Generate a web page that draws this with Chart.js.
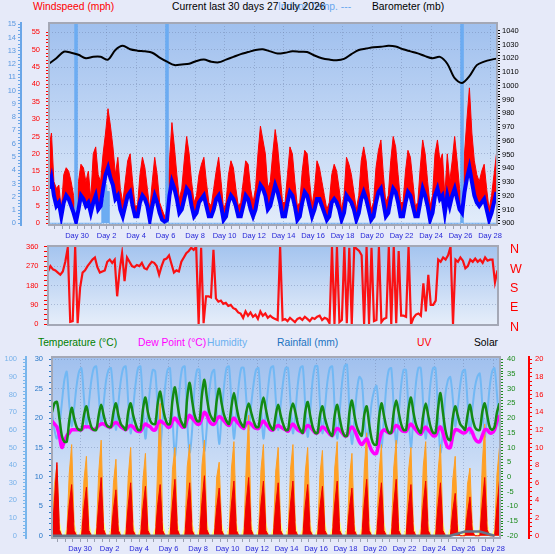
<!DOCTYPE html>
<html>
<head>
<meta charset="utf-8">
<script src="https://cdn.jsdelivr.net/npm/chart.js@4.4.1/dist/chart.umd.min.js"></script>
<style>
  body { margin: 0; background: #e6eaf9; }
  #wrap { position: relative; width: 555px; height: 554px; overflow: hidden; font-family: "Liberation Sans", Arial, sans-serif; font-size: 10.3px; }
  canvas { position: absolute; left: 0; }
  .lbl { position: absolute; white-space: nowrap; line-height: 14px; }
</style>
</head>
<body>
<div id="wrap">
  <span class="lbl" style="left:33px;top:0;color:#ff0000">Windspeed (mph)</span>
  <span class="lbl" style="left:278px;top:0;color:#6aa8ee">Indoor Temp. ---</span>
  <span class="lbl" style="left:172px;top:0;color:#000">Current last 30 days 27 July 2026</span>
  <span class="lbl" style="left:372px;top:0;color:#000">Barometer (mb)</span>

  <span class="lbl" style="left:38px;top:336px;color:#008000">Temperature (°C)</span>
  <span class="lbl" style="left:138px;top:336px;color:#ff00ff">Dew Point (°C)</span>
  <span class="lbl" style="left:207px;top:336px;color:#6ab0f0">Humidity</span>
  <span class="lbl" style="left:277px;top:336px;color:#1a72c0">Rainfall (mm)</span>
  <span class="lbl" style="left:417px;top:336px;color:#ff0000">UV</span>
  <span class="lbl" style="left:474px;top:336px;color:#000">Solar</span>

  <canvas id="windChart" width="555" height="245" style="top:0"></canvas>
  <canvas id="dirChart" width="555" height="99" style="top:236px"></canvas>
  <canvas id="climateChart" width="555" height="219" style="top:335px"></canvas>
</div>
<script>
const dayLabels = ['Day 30', 'Day 2', 'Day 4', 'Day 6', 'Day 8', 'Day 10', 'Day 12', 'Day 14',
  'Day 16', 'Day 18', 'Day 20', 'Day 22', 'Day 24', 'Day 26', 'Day 28'];
const compassLabels = ['N', 'E', 'S', 'W', 'N'];

// one value every 4 hours, first one 1.9 days before the "Day 30" mark
const windGust = [
  22, 26, 12, 10, 11, 4,   14, 16, 15, 12, 8, 2,    12, 17, 16, 12, 15, 7,
  20, 22, 14, 12, 20, 26,  33, 28, 22, 14, 19, 10,  6, 12, 18, 20, 12, 5,
  5, 14, 19, 16, 10, 4,    12, 19, 14, 6, 4, 2,     4, 18, 29, 22, 14, 7,
  10, 18, 25, 20, 12, 6,   8, 14, 17, 19, 12, 6,    5, 10, 15, 19, 12, 4,
  6, 14, 18, 16, 10, 5,    6, 12, 18, 17, 10, 6,    10, 20, 28, 24, 20, 10,
  12, 20, 27, 22, 14, 6,   6, 14, 22, 20, 12, 5,    6, 15, 21, 20, 12, 5,
  10, 18, 16, 12, 8, 4,    6, 14, 17, 15, 10, 4,    8, 19, 17, 14, 9, 4,
  8, 18, 22, 18, 10, 4,    6, 16, 21, 24, 14, 6,    8, 18, 25, 22, 14, 6,
  6, 15, 21, 19, 12, 5,    6, 16, 24, 20, 12, 5,    8, 20, 24, 18, 20, 8,
  20, 12, 18, 25, 18, 10,  8, 20, 30, 39, 26, 18,   14, 12, 15, 17, 10, 4,
  8, 14, 20
];
const windAvg = [
  10, 13, 8, 5, 6, 2,      6, 8, 7, 5, 3, 0.5,      4, 8, 7, 5, 6, 3,
  6, 8, 4, 5, 10, 14,      16, 13, 11, 7, 8, 4,     2, 5, 8, 9, 5, 2,
  2, 6, 8, 7, 5, 1,        5, 8, 6, 3, 1, 0.5,      1, 8, 12, 10, 7, 3,
  4, 7, 10, 9, 5, 2,       3, 6, 7, 8, 5, 2,        2, 4, 7, 8, 5, 1,
  2, 6, 8, 7, 5, 2,        2, 5, 8, 7, 4, 2,        4, 8, 11, 10, 8, 4,
  5, 8, 11, 9, 6, 2,       2, 6, 9, 8, 5, 1,        2, 6, 9, 8, 5, 2,
  4, 7, 7, 5, 3, 1,        2, 6, 7, 6, 4, 1,        3, 8, 7, 6, 4, 1,
  3, 7, 9, 7, 4, 1,        2, 6, 9, 10, 6, 2,       3, 7, 10, 9, 6, 2,
  2, 6, 9, 8, 5, 2,        2, 6, 10, 8, 5, 1,       3, 8, 10, 7, 8, 3,
  8, 5, 8, 10, 7, 4,       3, 9, 13, 16, 12, 8,     6, 5, 6, 7, 4, 1,
  3, 6, 9
];
// rain rate events (sample number, value)
const rainRateAt = [11, 22, 23, 24, 48, 168];
const rainRate = [15.1, 1.8, 2.9, 2.4, 15.1, 15.1];

// one value every 12 hours
const pressure = [
  1016, 1020, 1024.7, 1024, 1022.5, 1020, 1021, 1021, 1019, 1026,
  1029, 1026.5, 1025.5, 1025, 1024, 1020.5, 1017.5, 1015, 1015.5, 1016,
  1018, 1019, 1017.5, 1017, 1019, 1021, 1023, 1024.5, 1026, 1026.5,
  1025, 1023.5, 1024, 1025, 1024.7, 1024.5, 1022, 1020, 1019, 1018.5,
  1019.5, 1023, 1026, 1027, 1028, 1028.3, 1029, 1028.5, 1026.5, 1025,
  1023.5, 1021.5, 1020, 1021, 1016, 1005.5, 1002, 1007, 1015, 1017.5,
  1019, 1020
];

const windDir = [
  245, 270, 255, 250, 240, 230,  245, 290, 355, 12, 15, 360,   5, 170, 240, 250, 270, 285,
  300, 310, 265, 240, 245, 250,  290, 300, 285, 300, 130, 250, 330, 200, 310, 290, 270, 265,
  275, 270, 285, 260, 255, 275,  290, 285, 270, 230, 270, 300, 305, 320, 280, 240, 250, 245,
  290, 310, 330, 340, 355, 345,  360, 0, 355, 5, 130, 130,     125, 345, 120, 105, 110, 95,
  100, 85, 90, 75, 70, 55,       50, 30, 60, 40, 55, 35,       45, 25, 60, 40, 50, 30,
  40, 30, 25, 20, 360, 20,       25, 15, 30, 20, 10, 25,       30, 20, 35, 25, 15, 30,
  25, 35, 40, 20, 30, 25,        5, 360, 0, 360, 10, 20,       360, 5, 355, 0, 360, 350,
  340, 320, 0, 360, 0, 355,      15, 20, 360, 10, 25, 30,      360, 0, 360, 5, 340, 40,
  40, 35, 360, 0, 30, 45,        50, 40, 190, 60, 230, 90,     90, 110, 300, 290, 310, 300,
  320, 360, 0, 300, 290, 310,    295, 260, 270, 300, 290, 305, 290, 300, 285, 310, 295, 300,
  300, 195, 250
];

const temperature = [
  22, 25, 25.5, 20, 14, 12,   12, 19, 23.5, 20, 17, 16,  16, 21, 24, 20, 17, 16,
  16, 21, 24.5, 21, 18, 17,   17, 22, 25, 21, 18, 17,    16, 22, 25, 21, 18, 16,
  16, 23, 27, 22, 19, 18,     18, 25, 29, 24, 20, 18,    18, 26, 30.5, 25, 20, 18,
  17, 27, 32, 26, 21, 19,     19, 28, 33, 27, 22, 20,    19, 26, 30, 25, 21, 19,
  18, 24, 28.5, 24, 20, 18,   17, 22, 25, 22, 19, 17,    17, 23, 27, 23, 19, 17,
  16, 21, 24.5, 21, 18, 16,   16, 22, 25, 22, 18, 16,    15, 22, 25.5, 21, 17, 15,
  15, 21, 24, 20, 17, 15,     14, 21, 24.5, 20, 16, 14,  14, 22, 26, 21, 17, 15,
  14, 21, 24, 18, 13, 11,     11, 20, 25, 21, 17, 15,    15, 22, 26, 22, 18, 16,
  16, 23, 27, 22, 18, 16,     15, 21, 25, 21, 17, 15,    15, 23, 28.5, 22, 16, 13,
  12.5, 20, 24, 21, 18, 17,   16, 21, 24.5, 20, 17, 16,  16, 22, 25, 21, 17, 16,
  17, 22, 25
];
const dewPoint = [
  19, 18, 17, 14, 10, 12,           14, 15, 16, 16, 16, 16,           16, 17, 17, 17, 16.5, 16,
  16.5, 17.5, 18, 18, 17.5, 17,     17, 18, 18.5, 18, 17, 16.5,       16, 17, 17.5, 17, 16, 15.5,
  15.5, 17, 18, 17.5, 17, 16,       16, 18, 19, 18.5, 18, 17,         17, 19, 20, 19, 18, 17,
  17, 19.5, 21, 20, 19, 18,         18, 20, 22, 21, 19, 18,           18, 19.5, 20.5, 20, 19, 18,
  17.5, 19, 20, 19, 18, 17,         16.5, 18, 18.5, 18, 17, 16.5,     16.5, 18, 19, 18, 17, 16,
  16, 17, 17.5, 17, 16.5, 16,       15.5, 17, 18, 17, 16, 15.5,       15, 16.5, 17.5, 17, 16, 15,
  15, 16, 17, 16.5, 15.5, 14.5,     14, 15.5, 16.5, 16, 15, 14,       14, 16, 17, 16, 14, 12,
  11, 12, 13, 11, 9, 8,             8, 12, 15, 16, 15.5, 15,          15, 16.5, 17.5, 17, 16, 15.5,
  15.5, 17, 18, 17, 16, 15,         14.5, 16, 17, 16, 15, 14,         14, 16, 17, 15, 12, 10,
  10, 14, 16, 16, 15.5, 15,         15, 16, 16.5, 15, 13, 12,         12, 14, 16, 16, 15, 15,
  16, 19, 21
];
const humidity = [
  70, 60, 55, 62, 75, 88,   93, 75, 62, 72, 85, 93,   95, 78, 62, 75, 88, 95,
  96, 80, 63, 75, 88, 94,   95, 78, 60, 75, 88, 95,   96, 76, 58, 72, 86, 95,
  96, 74, 55, 70, 85, 94,   93, 70, 50, 66, 84, 94,   95, 68, 45, 62, 85, 95,
  96, 65, 47, 60, 84, 94,   94, 64, 48, 62, 82, 92,   94, 70, 52, 68, 85, 95,
  96, 75, 55, 70, 86, 95,   95, 78, 60, 74, 86, 94,   95, 74, 55, 70, 85, 95,
  96, 78, 60, 74, 87, 95,   95, 76, 58, 70, 86, 95,   96, 74, 56, 70, 88, 96,
  96, 75, 58, 72, 87, 95,   96, 72, 55, 70, 87, 96,   97, 70, 52, 66, 82, 90,
  88, 68, 55, 62, 75, 82,   85, 70, 50, 66, 85, 94,   95, 72, 52, 68, 85, 94,
  94, 70, 50, 68, 86, 95,   95, 74, 55, 70, 87, 95,   95, 70, 47, 60, 80, 88,
  90, 78, 62, 72, 85, 93,   94, 76, 58, 72, 84, 90,   92, 75, 56, 68, 84, 93,
  95, 80, 62
];
const solar = [
  0, 350, 480, 60, 0, 0,  0, 420, 620, 75, 0, 0,  0, 380, 540, 65, 0, 0,
  0, 430, 650, 70, 0, 0,  0, 360, 520, 60, 0, 0,  0, 400, 600, 65, 0, 0,
  0, 380, 560, 60, 0, 0,  0, 480, 900, 75, 0, 0,  0, 450, 600, 70, 0, 0,
  0, 470, 620, 75, 0, 0,  0, 480, 650, 70, 0, 0,  0, 400, 500, 65, 0, 0,
  0, 460, 640, 70, 0, 0,  0, 480, 820, 65, 0, 0,  0, 450, 620, 75, 0, 0,
  0, 440, 600, 70, 0, 0,  0, 450, 620, 65, 0, 0,  0, 430, 600, 70, 0, 0,
  0, 420, 580, 60, 0, 0,  0, 460, 640, 70, 0, 0,  0, 400, 560, 60, 0, 0,
  0, 450, 700, 65, 0, 0,  0, 420, 620, 70, 0, 0,  0, 460, 650, 65, 0, 0,
  0, 440, 600, 60, 0, 0,  0, 470, 640, 70, 0, 0,  0, 430, 620, 65, 0, 0,
  0, 380, 540, 60, 0, 0,  0, 350, 460, 55, 0, 0,  0, 480, 760, 70, 0, 0,
  0, 420, 600
];
const uvIndex = [
  0, 4, 8.3, 0.7, 0, 0,    0, 3.5, 5.8, 0.6, 0, 0,  0, 3.2, 5.5, 0.6, 0, 0,
  0, 3.5, 6.6, 0.7, 0, 0,  0, 3, 5.2, 0.6, 0, 0,    0, 3.4, 6, 0.6, 0, 0,
  0, 3.2, 5.6, 0.6, 0, 0,  0, 3.5, 5.8, 0.6, 0, 0,  0, 3.6, 6.4, 0.7, 0, 0,
  0, 3.4, 6, 0.6, 0, 0,    0, 3.8, 6.8, 0.7, 0, 0,  0, 3.2, 5.4, 0.6, 0, 0,
  0, 3.6, 6.2, 0.6, 0, 0,  0, 3.8, 6.6, 0.7, 0, 0,  0, 3.6, 6.2, 0.6, 0, 0,
  0, 3.5, 6, 0.6, 0, 0,    0, 3.6, 6.2, 0.6, 0, 0,  0, 3.4, 5.8, 0.6, 0, 0,
  0, 3.3, 5.6, 0.6, 0, 0,  0, 3.6, 6.2, 0.6, 0, 0,  0, 3.2, 5.4, 0.6, 0, 0,
  0, 3.6, 6.4, 0.6, 0, 0,  0, 3.4, 6, 0.6, 0, 0,    0, 3.6, 6.4, 0.6, 0, 0,
  0, 3.3, 5.8, 0.6, 0, 0,  0, 3.6, 6.2, 0.6, 0, 0,  0, 3.4, 6, 0.6, 0, 0,
  0, 2.8, 4.8, 0.5, 0, 0,  0, 2.6, 4.4, 0.5, 0, 0,  0, 3.6, 6.6, 0.7, 0, 0,
  0, 3.4, 6.2
];
const solarLow = [
  0.9, 1.4, 1.6, 1.6, 0, 0,  0.8, 1.3, 1.5, 1.5, 0, 0,  0.8, 1.3, 1.5, 1.5, 0, 0,
  0.9, 1.4, 1.6, 1.6, 0, 0,  0.8, 1.2, 1.4, 1.4, 0, 0,  0.8, 1.3, 1.5, 1.5, 0, 0,
  0.8, 1.3, 1.5, 1.5, 0, 0,  0.9, 1.4, 1.6, 1.6, 0, 0,  0.9, 1.4, 1.6, 1.6, 0, 0,
  0.8, 1.3, 1.5, 1.5, 0, 0,  0.9, 1.4, 1.6, 1.6, 0, 0,  0.8, 1.2, 1.4, 1.4, 0, 0,
  0.9, 1.4, 1.6, 1.6, 0, 0,  0.9, 1.4, 1.6, 1.6, 0, 0,  0.8, 1.3, 1.5, 1.5, 0, 0,
  0.8, 1.3, 1.5, 1.5, 0, 0,  0.9, 1.4, 1.6, 1.6, 0, 0,  0.8, 1.3, 1.5, 1.5, 0, 0,
  0.8, 1.3, 1.5, 1.5, 0, 0,  0.9, 1.4, 1.6, 1.6, 0, 0,  0.8, 1.2, 1.4, 1.4, 0, 0,
  0.9, 1.4, 1.6, 1.6, 0, 0,  0.8, 1.3, 1.5, 1.5, 0, 0,  0.9, 1.4, 1.6, 1.6, 0, 0,
  0.8, 1.3, 1.5, 1.5, 0, 0,  0.9, 1.4, 1.6, 1.6, 0, 0,  0.8, 1.3, 1.5, 1.5, 0, 0,
  0.8, 1.2, 1.4, 1.4, 0, 0,  0.8, 1.2, 1.4, 1.4, 0, 0,  0.9, 1.4, 1.6, 1.6, 0, 0,
  0.8, 1.3, 1.5
];
// one value per day
const rainfall = [0, 0, 0, 0, 0, 0, 0, 0, 0, 0, 0, 0, 0, 0, 0, 0,
  0, 0, 0, 0, 0, 0, 0, 0, 0, 0, 0, 0, 0.7, 0.7, 0];

const T0 = -1.9, STEP = 1 / 6, XMAX = 28.47;
const series = (values, step) => values.map((y, i) => ({ x: T0 + i * step, y }));
const rainRateSeries = windGust.map((_, i) => {
  const k = rainRateAt.indexOf(i);
  return k < 0 ? 0 : rainRate[k];
});

const FONT = '"Liberation Sans", Arial, sans-serif';
const tickFont = { family: FONT, size: 7.5 };
const gridColor = 'rgba(110,130,170,0.45)';

function ticksEvery(from, to, step) {
  return scale => {
    const out = [];
    const n = Math.round((to - from) / step);
    for (let k = 0; k <= n; k++) out.push({ value: +(from + k * step).toFixed(4) });
    scale.ticks = out;
  };
}
const labelEvery = every => v => (Math.abs(v / every - Math.round(v / every)) < 1e-6 ? v : '');
const fixWidth = w => s => { s.width = w; };
const isDayTick = v => v >= 0 && Math.abs(v / 2 - Math.round(v / 2)) < 1e-6;

function dayAxis(height, show) {
  return {
    type: 'linear', min: T0, max: XMAX, offset: false, bounds: 'data', display: show,
    afterBuildTicks: ticksEvery(-1.5, 28, 0.5),
    afterFit: s => { s.height = height; },
    grid: { offset: false, color: c => (c.tick && isDayTick(c.tick.value) ? gridColor : 'transparent'),
      tickColor: '#9aa0b0', tickLength: 4 },
    border: { display: false, dash: [1, 2] },
    ticks: { callback: v => (isDayTick(v) ? dayLabels[Math.round(v / 2)] : ''), color: '#2828d8',
      font: tickFont, padding: 2, maxRotation: 0, autoSkip: false }
  };
}

function yAxis(o) {
  const onGrid = c => o.grid && c.tick && Math.abs(c.tick.value / o.grid - Math.round(c.tick.value / o.grid)) < 1e-6;
  return {
    position: o.pos, weight: o.weight || 0, min: o.min, max: o.max, bounds: 'data',
    afterBuildTicks: ticksEvery(o.ticks[0], o.ticks[1], o.ticks[2]),
    afterFit: fixWidth(o.width),
    grid: {
      offset: false,
      drawOnChartArea: !!o.grid,
      color: c => (onGrid(c) ? gridColor : 'transparent'),
      tickColor: o.tickColor || o.color, tickLength: o.tickLength === undefined ? 3 : o.tickLength
    },
    border: o.border ? { color: o.border, width: 2, dash: [1, 2] } : { display: false, dash: [1, 2] },
    ticks: { callback: o.label || labelEvery(o.every), color: o.color, font: o.font || tickFont,
      padding: o.pad === undefined ? 2 : o.pad, labelOffset: o.shift || 0, autoSkip: false }
  };
}

const panel = {
  id: 'panel',
  beforeDraw(chart, args, opts) {
    const { ctx, chartArea: { left, top, right, bottom } } = chart;
    const g = ctx.createLinearGradient(0, top, 0, bottom);
    g.addColorStop(0, opts.top);
    g.addColorStop(1, opts.bottom);
    ctx.save();
    ctx.fillStyle = g;
    ctx.fillRect(left, top, right - left, bottom - top);
    ctx.restore();
  },
  afterDraw(chart) {
    const { ctx, chartArea: { left, top, right, bottom } } = chart;
    ctx.save();
    ctx.strokeStyle = '#a4a8b6';
    ctx.lineWidth = 2;
    ctx.strokeRect(left, top, right - left, bottom - top);
    ctx.restore();
  }
};

const common = (padding, bg) => ({
  responsive: false, animation: false, events: [],
  layout: { padding },
  plugins: { legend: { display: false }, tooltip: { enabled: false }, panel: bg },
  elements: { point: { radius: 0 }, line: { tension: 0 } }
});

// windspeed + barometer
new Chart(document.getElementById('windChart'), {
  type: 'line',
  data: {
    datasets: [
      { label: 'Gust', data: series(windGust, STEP), yAxisID: 'yWind', borderColor: '#ff0000',
        backgroundColor: '#ff0000', borderWidth: 1, fill: '+1', order: 3 },
      { label: 'Average', data: series(windAvg, STEP), yAxisID: 'yWind', borderColor: '#0000ff',
        borderWidth: 4, order: 1 },
      { label: 'Rain rate', data: series(rainRateSeries, STEP), yAxisID: 'yRate', borderColor: '#6cacf2',
        backgroundColor: '#6cacf2', borderWidth: 1, stepped: 'middle', fill: 'origin', order: 2 },
      { label: 'Barometer', data: series(pressure, 0.5), yAxisID: 'yBaro', borderColor: '#000',
        borderWidth: 2, tension: 0.3, order: 0 }
    ]
  },
  options: {
    ...common({ top: 23, left: 0, right: 0, bottom: 0 }, { top: '#a0c0ee', bottom: '#e2ecfa' }),
    scales: {
      x: dayAxis(20, true),
      yRate: yAxis({ pos: 'left', weight: 2, min: -0.13, max: 15.1, ticks: [0, 15, 0.25], every: 1,
        width: 21, color: '#5a98e0', tickColor: '#6aa6e8', border: '#6aa6e8', pad: 2 }),
      yWind: yAxis({ pos: 'left', weight: 1, min: -0.49, max: 57.68, ticks: [0, 55, 1], every: 5,
        width: 28, color: '#ff0000', grid: 5, pad: 6 }),
      yBaro: yAxis({ pos: 'right', min: 898.8, max: 1045.6, ticks: [900, 1040, 2], every: 10,
        width: 58, color: '#000', pad: 2 })
    }
  },
  plugins: [panel]
});

// wind direction
new Chart(document.getElementById('dirChart'), {
  type: 'line',
  data: {
    datasets: [
      { label: 'Direction', data: series(windDir, STEP), yAxisID: 'yDir', borderColor: 'rgba(255,0,0,0.92)',
        borderWidth: 2.2 }
    ]
  },
  options: {
    ...common({ top: 0, left: 0, right: 0, bottom: 0 }, { top: '#a4c4ef', bottom: '#e6eefa' }),
    scales: {
      x: dayAxis(0, false),
      yDir: yAxis({ pos: 'left', min: -3.2, max: 363.2, ticks: [0, 360, 22.5], every: 90,
        width: 48, color: '#ff0000', grid: 90, pad: 5.5, tickLength: 4 }),
      yCompass: yAxis({ pos: 'right', min: -3.2, max: 363.2, ticks: [0, 360, 90], width: 57,
        color: '#ff0000', tickColor: 'transparent', tickLength: 12, pad: 0, shift: 3,
        font: { family: FONT, size: 12.5, lineHeight: 0.8 },
        label: v => compassLabels[Math.round(v / 90)] })
    }
  },
  plugins: [panel]
});

// temperature, dew point, humidity, rainfall, UV, solar
new Chart(document.getElementById('climateChart'), {
  type: 'line',
  data: {
    datasets: [
      { label: 'Temperature (°C)', data: series(temperature, STEP), yAxisID: 'yTemp', borderColor: '#138a13',
        borderWidth: 2.5, tension: 0.3, order: 0 },
      { label: 'Dew Point (°C)', data: series(dewPoint, STEP), yAxisID: 'yTemp', borderColor: '#ff00ff',
        borderWidth: 3.5, tension: 0.3, order: 1 },
      { label: 'Rainfall (mm)', data: series(rainfall, 1), yAxisID: 'yRain', borderColor: '#667488',
        borderWidth: 2.5, order: 2 },
      { label: 'UV', data: series(uvIndex, STEP), yAxisID: 'yUV', borderColor: '#f00000',
        backgroundColor: '#f00000', borderWidth: 1, fill: 'origin', order: 3 },
      { label: 'Solar low', data: series(solarLow, STEP), yAxisID: 'yUV', borderColor: '#ffff78',
        backgroundColor: '#ffff78', borderWidth: 1, fill: 'origin', order: 4 },
      { label: 'Solar', data: series(solar, STEP), yAxisID: 'ySolar', borderColor: '#ffa024',
        backgroundColor: '#ffa024', borderWidth: 1, fill: 'origin', order: 5 },
      { label: 'Humidity', data: series(humidity, STEP), yAxisID: 'yHum', borderColor: '#72b8f4',
        borderWidth: 2, tension: 0.3, order: 6 }
    ]
  },
  options: {
    ...common({ top: 22, left: 0, right: 0, bottom: 0 }, { top: '#a0c0ee', bottom: '#e8f0fb' }),
    scales: {
      x: dayAxis(16, true),
      yHum: yAxis({ pos: 'left', weight: 2, min: -1.3, max: 101.3, ticks: [0, 100, 2], every: 10,
        width: 26, color: '#78b2ea', tickColor: '#7ab6ec', border: '#7ab6ec', pad: 6 }),
      yRain: yAxis({ pos: 'left', weight: 1, min: -0.39, max: 30.39, ticks: [0, 30, 1], every: 5,
        width: 26, color: '#2a78c8', grid: 5, pad: 6 }),
      yTemp: yAxis({ pos: 'right', weight: 1, min: -20.78, max: 40.78, ticks: [-20, 40, 1], every: 5,
        width: 29, color: '#1a8a1a', pad: 4 }),
      yUV: yAxis({ pos: 'right', weight: 2, min: -0.26, max: 20.26, ticks: [0, 20, 0.5], every: 2,
        width: 26, color: '#ff0000', border: '#ff0000', pad: 3 }),
      ySolar: { display: false, min: -15.6, max: 1215.6 }
    }
  },
  plugins: [panel]
});
</script>
</body>
</html>
